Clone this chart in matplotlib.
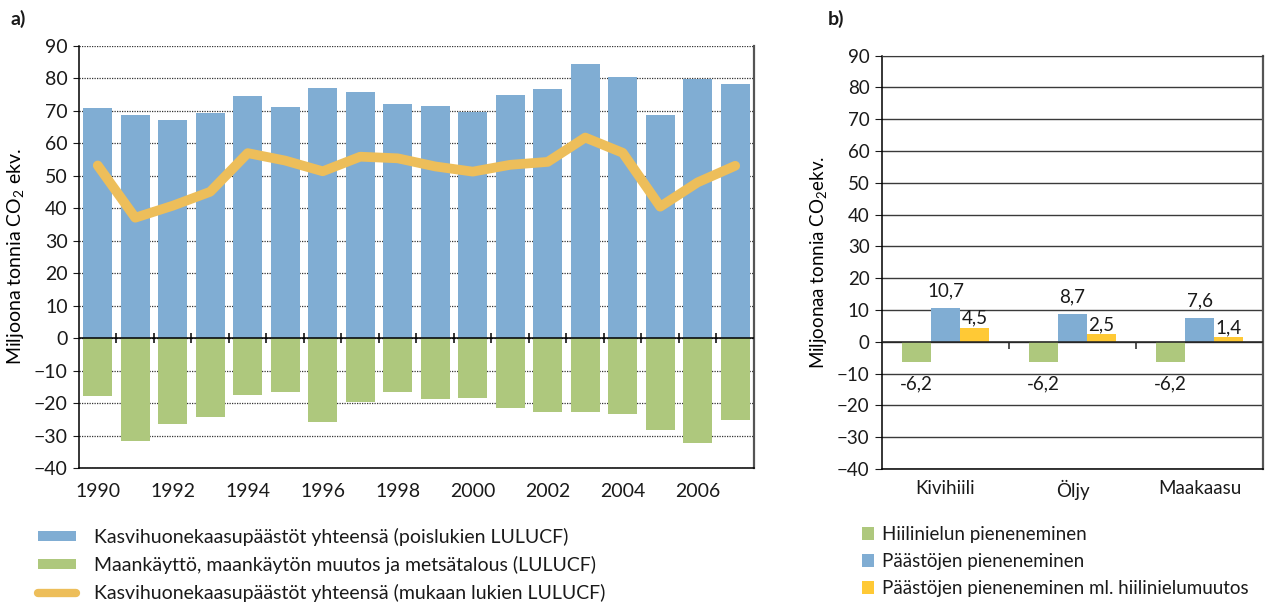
import numpy as np
import matplotlib
matplotlib.use("Agg")
import matplotlib.pyplot as plt
from matplotlib.patches import Patch
from matplotlib.lines import Line2D

plt.rcParams['font.family'] = ['Lato', 'DejaVu Sans']
plt.rcParams['mathtext.fontset'] = 'custom'
plt.rcParams['mathtext.rm'] = 'Lato'
plt.rcParams['text.color'] = '#1a1a1a'

# --- Panel a: annual greenhouse gas emissions, Mt CO2-eq ---
years = list(range(1990, 2008))
emissions_excl_lulucf = [71.0, 68.7, 67.2, 69.3, 74.6, 71.2, 77.0, 75.8, 72.1,
                         71.5, 69.7, 74.9, 76.7, 84.4, 80.4, 68.7, 79.9, 78.2]
lulucf = [-17.8, -31.6, -26.4, -24.2, -17.6, -16.5, -25.8, -19.7, -16.5,
          -18.7, -18.4, -21.5, -22.7, -22.7, -23.3, -28.3, -32.3, -25.2]
emissions_incl_lulucf = [53.2, 37.1, 40.8, 45.1, 57.0, 54.7, 51.4, 55.9, 55.4,
                         52.9, 51.3, 53.4, 54.3, 61.8, 57.1, 40.5, 48.0, 53.1]

# --- Panel b: reductions by fuel ---
fuels = ['Kivihiili', 'Öljy', 'Maakaasu']
sink_reduction = [-6.2, -6.2, -6.2]
emission_reduction = [10.7, 8.7, 7.6]
emission_reduction_net = [4.5, 2.5, 1.4]

legend_a = ['Kasvihuonekaasupäästöt yhteensä (poislukien LULUCF)',
            'Maankäyttö, maankäytön muutos ja metsätalous (LULUCF)',
            'Kasvihuonekaasupäästöt yhteensä (mukaan lukien LULUCF)']
legend_b = ['Hiilinielun pieneneminen',
            'Päästöjen pieneneminen',
            'Päästöjen pieneneminen ml. hiilinielumuutos']

BLUE = '#80ADD3'
GREEN = '#AEC87D'
ORANGE = '#EDBE5A'
YELLOW = '#FFC935'
TXT = '#1a1a1a'
FS_A = 14
FS_B = 13.5

fig = plt.figure(figsize=(12.68, 6.06), dpi=100)
axA = fig.add_axes([0.0623, 0.2277, 0.5323, 0.6964])
axB = fig.add_axes([0.6956, 0.2261, 0.3005, 0.6820])

# ---------------- panel a ----------------
x = np.arange(len(years))
axA.bar(x, emissions_excl_lulucf, width=0.78, color=BLUE, zorder=2)
axA.bar(x, lulucf, width=0.78, color=GREEN, zorder=2)
axA.plot(x, emissions_incl_lulucf, color=ORANGE, lw=7,
         solid_capstyle='round', solid_joinstyle='round', zorder=4)
axA.set_xlim(-0.5, len(years) - 0.5)
axA.set_ylim(-40, 90)
axA.set_yticks(np.arange(-40, 91, 10))
axA.set_axisbelow(True)
axA.yaxis.grid(True, linestyle=(0, (1, 1)), color='#333333', lw=0.9)
axA.set_xticks(x[::2])
axA.set_xticklabels([str(y) for y in years[::2]])
axA.tick_params(axis='x', length=0, pad=11, labelsize=FS_A, colors=TXT)
axA.tick_params(axis='y', length=4, pad=4, labelsize=FS_A, colors=TXT)
# zero line with category separators
axA.axhline(0, color='black', lw=1.1, zorder=3)
bounds = np.arange(0.5, len(years) - 1, 1.0)
axA.plot(bounds, np.zeros_like(bounds), ls='none', marker='|', ms=7,
         mew=1.1, color='black', zorder=3)
axA.spines['top'].set_visible(False)
axA.spines['right'].set_color('#555555')
axA.spines['right'].set_linewidth(1.6)
axA.spines['left'].set_linewidth(1.1)
axA.spines['bottom'].set_linewidth(1.1)
axA.set_ylabel('Miljoona tonnia CO$_\\mathregular{2}$ ekv.', fontsize=FS_A,
               labelpad=5)

# ---------------- panel b ----------------
xb = np.arange(len(fuels))
w = 0.228
axB.bar(xb - w, sink_reduction, width=w, color=GREEN, zorder=2)
axB.bar(xb, emission_reduction, width=w, color=BLUE, zorder=2)
axB.bar(xb + w, emission_reduction_net, width=w, color=YELLOW, zorder=2)


def fmt(v):
    return f'{v:.1f}'.replace('.', ',')


for xi, v in zip(xb - w, sink_reduction):
    axB.annotate(fmt(v), (xi, v), xytext=(0, -10), textcoords='offset points',
                 ha='center', va='top', fontsize=FS_B)
for xi, v in zip(xb, emission_reduction):
    axB.annotate(fmt(v), (xi, v), xytext=(0, 6), textcoords='offset points',
                 ha='center', va='bottom', fontsize=FS_B)
for xi, v in zip(xb + w, emission_reduction_net):
    axB.annotate(fmt(v), (xi, v), xytext=(0, 0.5), textcoords='offset points',
                 ha='center', va='bottom', fontsize=FS_B)

axB.set_xlim(-0.5, len(fuels) - 0.5)
axB.set_ylim(-40, 90)
axB.set_yticks(np.arange(-40, 91, 10))
axB.set_axisbelow(True)
axB.yaxis.grid(True, linestyle='-', color='#3a3a3a', lw=1.0)
axB.set_xticks(xb)
axB.set_xticklabels(fuels)
axB.tick_params(axis='x', length=0, pad=8, labelsize=FS_B, colors=TXT)
axB.tick_params(axis='y', length=5, pad=4, labelsize=FS_B, colors=TXT)
axB.axhline(0, color='#222222', lw=1.1, zorder=3)
bb = np.arange(0.5, len(fuels) - 1, 1.0)
axB.plot(bb, np.full_like(bb, -1.2), ls='none', marker='|', ms=5,
         mew=1.1, color='#222222', zorder=3)
axB.spines['top'].set_color('#3a3a3a')
axB.spines['right'].set_color('#555555')
axB.spines['right'].set_linewidth(1.6)
axB.spines['left'].set_linewidth(1.1)
axB.spines['bottom'].set_linewidth(1.1)
axB.set_ylabel('Miljoonaa tonnia CO$_\\mathregular{2}$ekv.', fontsize=FS_B,
               labelpad=5)

# panel tags
fig.text(0.008, 0.968, 'a)', fontsize=14, fontweight='bold', va='center')
fig.text(0.653, 0.968, 'b)', fontsize=14, fontweight='bold', va='center')

# legends
handles_a = [Patch(facecolor=BLUE), Patch(facecolor=GREEN),
             Line2D([], [], color=ORANGE, lw=6, solid_capstyle='round')]
fig.legend(handles_a, legend_a, loc='upper left', bbox_to_anchor=(0.030, 0.129),
           frameon=False, fontsize=FS_A, handlelength=1.96, handleheight=0.42,
           handletextpad=0.93, labelspacing=0.52, borderpad=0, borderaxespad=0)

handles_b = [Patch(facecolor=GREEN), Patch(facecolor=BLUE), Patch(facecolor=YELLOW)]
fig.legend(handles_b, legend_b, loc='upper left', bbox_to_anchor=(0.680, 0.132),
           frameon=False, fontsize=FS_B, handlelength=0.64, handleheight=0.64,
           handletextpad=0.43, labelspacing=0.54, borderpad=0, borderaxespad=0)

fig.savefig('out.png', dpi=100)
